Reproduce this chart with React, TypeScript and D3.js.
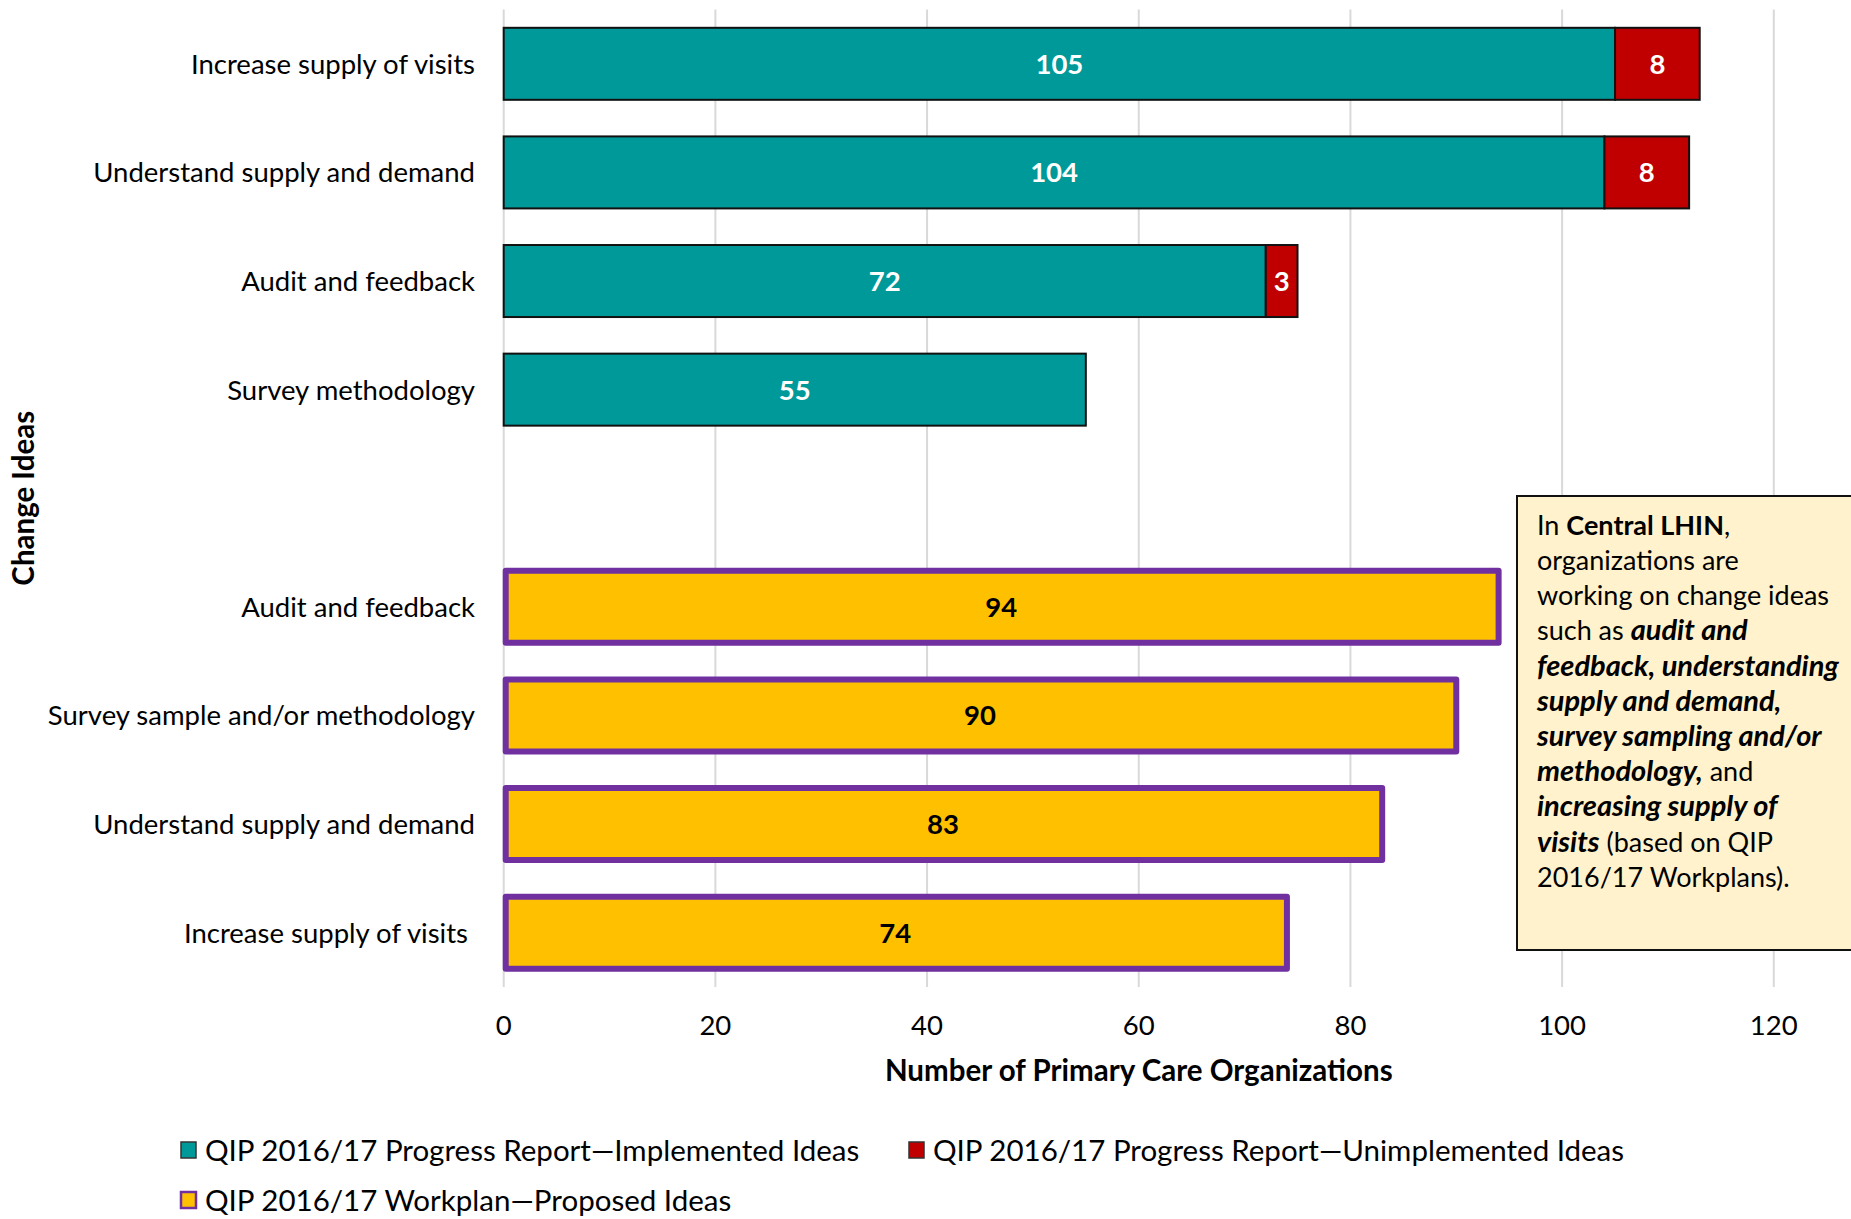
import React from "react";
import * as d3 from "d3";

const progressCategories = [
  "Increase supply of visits",
  "Understand supply and demand",
  "Audit and feedback",
  "Survey methodology",
];
const implemented = [105, 104, 72, 55];
const unimplemented = [8, 8, 3, 0];

const workplanCategories = [
  "Audit and feedback",
  "Survey sample and/or methodology",
  "Understand supply and demand",
  "Increase supply of visits\u00A0",
];
const proposed = [94, 90, 83, 74];

const xTicks = [0, 20, 40, 60, 80, 100, 120];

const legendItems = [
  "QIP 2016/17 Progress Report\u2014Implemented Ideas",
  "QIP 2016/17 Progress Report\u2014Unimplemented Ideas",
  "QIP 2016/17 Workplan\u2014Proposed Ideas",
];

const W = 1851;
const H = 1219;
const FONT = "Lato, 'Open Sans', sans-serif";
const TEAL = "#009999";
const RED = "#C00000";
const YELLOW = "#FFC000";
const PURPLE = "#7030A0";

type Seg = { t: string; b?: boolean; i?: boolean };
const noteLines: Seg[][] = [
  [{ t: "In " }, { t: "Central LHIN", b: true }, { t: "," }],
  [{ t: "organizations are" }],
  [{ t: "working on change ideas" }],
  [{ t: "such as " }, { t: "audit and", b: true, i: true }],
  [{ t: "feedback, understanding", b: true, i: true }],
  [{ t: "supply and demand,", b: true, i: true }],
  [{ t: "survey sampling and/or", b: true, i: true }],
  [{ t: "methodology,", b: true, i: true }, { t: " and" }],
  [{ t: "increasing supply of", b: true, i: true }],
  [{ t: "visits", b: true, i: true }, { t: " (based on QIP" }],
  [{ t: "2016/17 Workplans)." }],
];

export default function App() {
  const x = d3.scaleLinear().domain([0, 120]).range([503.7, 1773.8]);
  const keys = [
    ...progressCategories.map((_, i) => "p" + i),
    "gap",
    ...workplanCategories.map((_, i) => "w" + i),
  ];
  const y = d3
    .scaleBand<string>()
    .domain(keys)
    .range([9.5, 987])
    .paddingInner(0.337)
    .paddingOuter(0.1685);
  const bw = y.bandwidth();
  const labelX = 475;

  return (
    <svg
      width={W}
      height={H}
      style={{ position: "absolute", left: 0, top: 0, background: "#fff" }}
      fontFamily={FONT}
    >
      {/* gridlines */}
      {xTicks.map((t) => (
        <line
          key={"g" + t}
          x1={x(t)}
          x2={x(t)}
          y1={9.5}
          y2={987}
          stroke="#D9D9D9"
          strokeWidth={2}
        />
      ))}

      {/* progress report bars */}
      {progressCategories.map((c, i) => {
        const yy = y("p" + i)!;
        const x0 = x(0);
        const x1 = x(implemented[i]);
        const x2 = x(implemented[i] + unimplemented[i]);
        return (
          <g key={"p" + i}>
            <rect x={x0} y={yy} width={x1 - x0} height={bw} fill={TEAL} stroke="#111" strokeWidth={2} />
            {unimplemented[i] > 0 && (
              <rect x={x1} y={yy} width={x2 - x1} height={bw} fill={RED} stroke="#111" strokeWidth={2} />
            )}
            <text x={(x0 + x1) / 2} y={yy + bw / 2} dy="0.36em" textAnchor="middle" fill="#fff" fontWeight="bold" fontSize={27.5}>
              {implemented[i]}
            </text>
            {unimplemented[i] > 0 && (
              <text x={(x1 + x2) / 2} y={yy + bw / 2} dy="0.36em" textAnchor="middle" fill="#fff" fontWeight="bold" fontSize={27.5}>
                {unimplemented[i]}
              </text>
            )}
            <text x={labelX} y={yy + bw / 2} dy="0.36em" textAnchor="end" fontSize={27.5} fill="#000">
              {c}
            </text>
          </g>
        );
      })}

      {/* workplan bars */}
      {workplanCategories.map((c, i) => {
        const yy = y("w" + i)!;
        const x0 = x(0);
        const x1 = x(proposed[i]);
        return (
          <g key={"w" + i}>
            <rect x={x0 + 2} y={yy} width={x1 - x0 - 2} height={bw} fill={YELLOW} stroke={PURPLE} strokeWidth={6} strokeLinejoin="round" />
            <text x={(x0 + x1) / 2} y={yy + bw / 2} dy="0.36em" textAnchor="middle" fill="#000" fontWeight="bold" fontSize={27.5}>
              {proposed[i]}
            </text>
            <text x={labelX} y={yy + bw / 2} dy="0.36em" textAnchor="end" fontSize={27.5} fill="#000" style={{ whiteSpace: "pre" }}>
              {c}
            </text>
          </g>
        );
      })}

      {/* x tick labels */}
      {xTicks.map((t) => (
        <text key={"t" + t} x={x(t)} y={1025} dy="0.36em" textAnchor="middle" fontSize={27.5} fill="#000">
          {t}
        </text>
      ))}

      {/* axis titles */}
      <text x={(x(0) + x(120)) / 2} y={1070} dy="0.36em" textAnchor="middle" fontSize={29.5} fontWeight="bold" fill="#000">
        Number of Primary Care Organizations
      </text>
      <text
        transform={`translate(23,${(9.5 + 987) / 2}) rotate(-90)`}
        dy="0.36em"
        textAnchor="middle"
        fontSize={29.5}
        fontWeight="bold"
        fill="#000"
      >
        Change Ideas
      </text>

      {/* note box */}
      <rect x={1517} y={496} width={360} height={454} fill="#FFF2CC" stroke="#111" strokeWidth={2} />
      {noteLines.map((line, li) => (
        <text key={"n" + li} x={1537} y={525 + li * 35.2} dy="0.36em" fontSize={27} fill="#000" style={{ whiteSpace: "pre" }}>
          {line.map((s, si) => (
            <tspan
              key={si}
              fontWeight={s.b ? "bold" : "normal"}
              fontStyle={s.i ? "italic" : "normal"}
              fontSize={s.i ? 29 : 27}
            >
              {s.t}
            </tspan>
          ))}
        </text>
      ))}

      {/* legend */}
      <g>
        <rect x={181} y={1142} width={15} height={16} fill={TEAL} stroke="#333" strokeWidth={1.5} />
        <text x={205} y={1150} dy="0.36em" fontSize={29.5} fill="#000">{legendItems[0]}</text>
        <rect x={909} y={1142} width={15} height={16} fill={RED} stroke="#333" strokeWidth={1.5} />
        <text x={933} y={1150} dy="0.36em" fontSize={29.5} fill="#000">{legendItems[1]}</text>
        <rect x={181} y={1192} width={15} height={16} fill={YELLOW} stroke={PURPLE} strokeWidth={2.5} />
        <text x={205} y={1200} dy="0.36em" fontSize={29.5} fill="#000">{legendItems[2]}</text>
      </g>
    </svg>
  );
}
